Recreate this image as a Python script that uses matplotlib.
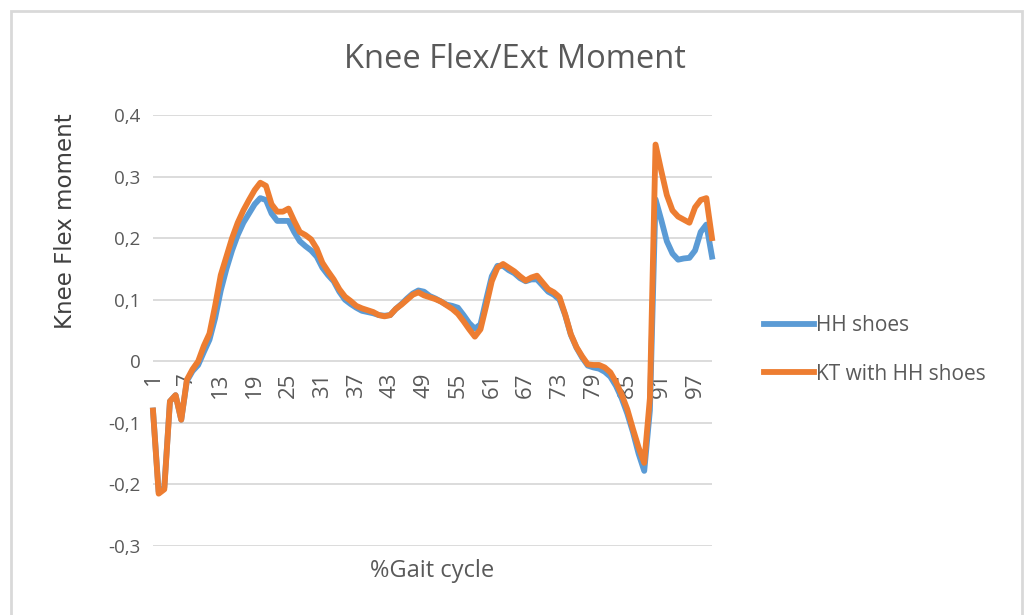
import numpy as np
import matplotlib.pyplot as plt
from matplotlib.patches import Rectangle

# % gait cycle categories (1..100)
gait = list(range(1, 101))

# Knee flex/ext moment
hh_shoes = [
    -0.08, -0.212, -0.205, -0.065, -0.055, -0.095, -0.032, -0.016, -0.006, 0.015,
    0.035, 0.07, 0.115, 0.15, 0.18, 0.205, 0.225, 0.24, 0.255, 0.265,
    0.262, 0.24, 0.228, 0.228, 0.228, 0.21, 0.195, 0.187, 0.18, 0.17,
    0.152, 0.14, 0.13, 0.113, 0.1, 0.093, 0.087, 0.082, 0.08, 0.078,
    0.075, 0.074, 0.075, 0.085, 0.093, 0.102, 0.11, 0.115, 0.113, 0.106,
    0.102, 0.097, 0.092, 0.09, 0.087, 0.075, 0.062, 0.053, 0.06, 0.1,
    0.138, 0.155, 0.155, 0.148, 0.143, 0.135, 0.13, 0.133, 0.133, 0.123,
    0.113, 0.108, 0.1, 0.075, 0.043, 0.022, 0.006, -0.007, -0.01, -0.012,
    -0.017, -0.025, -0.04, -0.06, -0.085, -0.115, -0.15, -0.178, -0.08, 0.263,
    0.23, 0.195, 0.175, 0.165, 0.167, 0.168, 0.18, 0.21, 0.222, 0.17,
]
kt_hh_shoes = [
    -0.08, -0.215, -0.208, -0.065, -0.055, -0.095, -0.03, -0.013, 0.0, 0.025,
    0.045, 0.09, 0.14, 0.17, 0.2, 0.225, 0.245, 0.262, 0.278, 0.29,
    0.285, 0.255, 0.243, 0.243, 0.248, 0.228, 0.21, 0.205, 0.198, 0.183,
    0.16, 0.146, 0.133, 0.117, 0.105, 0.098, 0.09, 0.086, 0.083, 0.08,
    0.075, 0.073, 0.075, 0.085, 0.092, 0.1, 0.108, 0.112, 0.107, 0.104,
    0.101, 0.097, 0.091, 0.085, 0.077, 0.065, 0.052, 0.04, 0.052, 0.09,
    0.13, 0.152, 0.158, 0.152, 0.146, 0.138, 0.131, 0.136, 0.139, 0.128,
    0.117, 0.112, 0.104, 0.076, 0.044, 0.023, 0.008, -0.005, -0.006, -0.006,
    -0.01, -0.018, -0.034, -0.054, -0.078, -0.11, -0.14, -0.165, -0.06, 0.352,
    0.31, 0.27, 0.245, 0.235, 0.23, 0.225, 0.25, 0.262, 0.265, 0.2,
]

y_ticks = [-0.3, -0.2, -0.1, 0, 0.1, 0.2, 0.3, 0.4]
y_labels = ["-0,3", "-0,2", "-0,1", "0", "0,1", "0,2", "0,3", "0,4"]
x_ticks = gait[::6]

plt.rcParams['font.family'] = ['Open Sans', 'DejaVu Sans']
txt = '#595959'

fig = plt.figure(figsize=(10.29, 6.15), dpi=100)
fig.patches.append(Rectangle((11 / 1029, -0.05), 1011 / 1029, 1.05 - 11 / 615,
                             transform=fig.transFigure, fill=False,
                             edgecolor='#D9D9D9', lw=2))

ax = fig.add_axes([153 / 1029, 69 / 615, 559 / 1029, 431 / 615])
ax.plot(gait, hh_shoes, color='#5B9BD5', lw=4.2, label='HH shoes', zorder=3,
        clip_on=False)
ax.plot(gait, kt_hh_shoes, color='#ED7D31', lw=4.2, label='KT with HH shoes', zorder=4,
        clip_on=False)

ax.set_xlim(1, 100)
ax.set_ylim(-0.3, 0.4)
ax.set_yticks(y_ticks)
ax.set_yticklabels(y_labels)
ax.yaxis.grid(True, color='#D9D9D9', lw=1.3)
ax.set_axisbelow(True)
for s in ax.spines.values():
    s.set_visible(False)
ax.spines['bottom'].set_position(('data', 0))

ax.set_xticks(x_ticks)
ax.set_xticklabels([str(v) for v in x_ticks], rotation=90)
ax.tick_params(axis='both', length=0, colors=txt)
ax.tick_params(axis='y', labelsize=13.5, pad=9)
ax.tick_params(axis='x', labelsize=16, pad=8)

fig.text(515 / 1029, 1 - 60 / 615, 'Knee Flex/Ext Moment', ha='center', va='center',
         fontsize=23.5, color=txt)
fig.text(65 / 1029, 1 - 221 / 615, 'Knee Flex moment', rotation=90, ha='center',
         va='center', fontsize=16.5, color='#404040', family=['DejaVu Sans'])
fig.text(432 / 1029, 1 - 571 / 615, '%Gait cycle', ha='center', va='center',
         fontsize=17, color=txt)

ax.legend(loc='center left', bbox_to_anchor=(745 / 1029, 1 - 350 / 615),
          bbox_transform=fig.transFigure, frameon=False, fontsize=15,
          labelcolor=txt, handlelength=2.4, handletextpad=0.1, labelspacing=1.3)

fig.savefig('out.png', dpi=100)
